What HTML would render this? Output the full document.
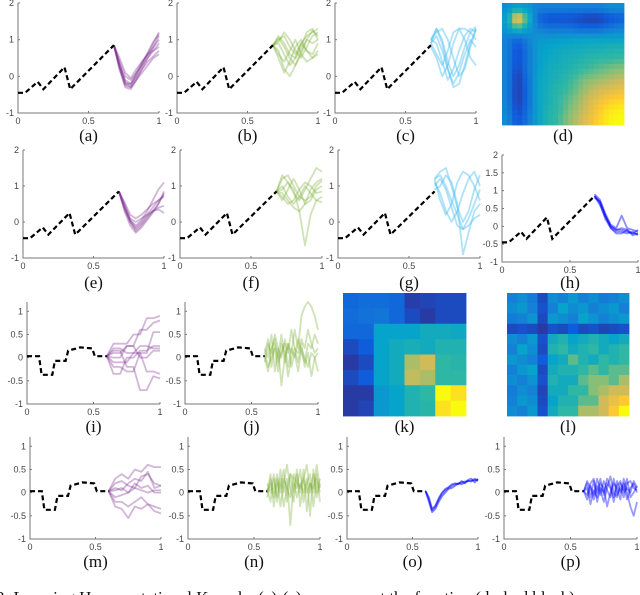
<!DOCTYPE html>
<html><head><meta charset="utf-8"><style>
html,body{margin:0;padding:0;background:#fff;overflow:hidden}
svg{display:block}
.tk{font-family:"Liberation Sans",sans-serif;font-size:9px;fill:#444}
.lb{font-family:"Liberation Serif",serif;font-size:17px;fill:#111}
</style></head><body>
<svg id="fig" width="640" height="595" viewBox="0 0 640 595" xmlns="http://www.w3.org/2000/svg">
<text class="lb" x="-4" y="603">3:  Learning Hyper-rotational Kernels: (a)-(c) ... represent the function (dashed black) ...</text>
</svg>
<script>
// ---- data ----
const baseA_x = [0,0.05,0.14,0.18,0.33,0.37,0.68];
const baseA_y = [-0.45,-0.45,-0.15,-0.35,0.25,-0.35,0.85];
const baseB_x = [0,0.09,0.11,0.19,0.21,0.29,0.31,0.4,0.49,0.51,0.6];
const baseB_y = [0.03,0.03,-0.37,-0.37,-0.07,-0.07,0.15,0.22,0.2,0.03,0.03];
const xsA = [0.68,0.72,0.76,0.8,0.84,0.88,0.92,0.96,1.0];
const xsB = [0.6,0.65,0.7,0.75,0.8,0.85,0.9,0.95,1.0];
const xsC = [0.6,0.625,0.65,0.675,0.7,0.725,0.75,0.775,0.8,0.825,0.85,0.875,0.9,0.925,0.95,0.975,1.0];
const seriesA = [[0.85,0.3,-0.2,-0.3,-0.1,0.1,0.3,0.5,0.6],[0.85,0.2,-0.3,-0.35,-0.1,0.2,0.5,0.8,1.1],[0.85,0.4,0,-0.1,0.1,0.3,0.5,0.7,0.9],[0.85,0.3,-0.1,-0.2,0,0.3,0.6,0.9,1.2],[0.85,0.5,0.1,-0.05,0.2,0.4,0.6,0.8,1.0],[0.85,0.2,-0.25,-0.3,-0.05,0.2,0.4,0.55,0.7],[0.85,0.35,-0.15,-0.25,0.05,0.35,0.65,0.95,1.15],[0.85,0.25,-0.2,-0.2,0.1,0.4,0.6,0.7,0.8]];
const seriesB = [[0.85,1.0,1.1,0.8,0.6,0.9,1.1,1.2,1.3],[0.85,0.9,0.6,0.3,0.5,0.9,0.7,0.6,0.9],[0.85,0.7,0.2,0.0,0.3,0.7,1.0,0.9,1.0],[0.85,1.1,0.9,0.6,0.5,0.8,1.2,1.3,1.0],[0.85,0.6,0.4,0.7,1.0,0.6,0.4,0.5,0.7],[0.85,0.95,1.2,1.0,0.7,0.5,0.8,1.1,1.2],[0.85,0.5,0.1,0.4,0.8,1.0,0.7,0.5,0.6],[0.85,1.05,0.8,0.5,0.3,0.6,1.0,1.25,1.1]];
const seriesC = [[0.9,1.3,1.0,0.4,0.0,0.3,0.8,1.2,1.35],[1.0,1.3,0.9,0.2,-0.2,0.1,0.6,1.0,0.8],[0.9,0.6,0.3,0.7,1.2,1.3,1.0,0.5,0.3],[1.0,1.2,1.3,1.0,0.5,0.0,0.2,0.8,1.3],[0.8,0.5,0.0,0.3,0.9,1.3,1.3,1.2,1.0],[1.0,0.9,0.4,-0.1,0.2,0.7,1.1,1.3,1.2],[0.9,1.1,0.7,0.2,-0.3,-0.2,0.3,0.9,1.3]];
const seriesE = [[0.85,0.4,0.0,-0.25,-0.1,0.1,0.3,0.5,0.8],[0.85,0.3,-0.1,-0.3,-0.15,0.05,0.25,0.5,0.85],[0.85,0.5,0.1,0.0,0.1,0.2,0.3,0.35,0.25],[0.85,0.45,0.05,-0.1,0.05,0.3,0.6,0.9,1.1],[0.85,0.35,0.0,-0.2,-0.05,0.15,0.3,0.4,0.45],[0.85,0.4,0.05,-0.15,0.0,0.2,0.4,0.6,0.75],[0.85,0.55,0.2,0.1,0.2,0.35,0.5,0.6,0.7]];
const seriesF = [[0.85,1.3,1.1,0.8,0.6,0.9,1.2,1.5,1.4],[0.85,0.8,0.6,0.4,0.3,0.5,0.9,1.1,1.2],[0.85,0.6,0.9,1.2,0.9,0.5,0.6,0.9,1.0],[0.85,1.0,0.7,0.5,0.7,1.0,0.8,0.6,0.7],[0.85,0.9,1.1,0.9,0.3,-0.65,0.2,0.6,0.55],[0.85,0.7,0.5,0.6,0.9,1.1,1.0,0.8,0.85],[0.85,1.2,1.3,1.0,0.7,0.6,0.7,1.0,1.15]];
const seriesG = [[1.2,1.4,1.5,1.0,0.4,0.0,0.3,0.9,1.3],[1.0,1.2,0.9,0.4,-0.1,-0.2,0.1,0.5,0.9],[1.2,0.6,0.2,0.5,1.1,1.4,1.3,1.0,0.6],[0.9,1.0,1.3,1.1,0.5,-0.9,-0.3,0.3,0.5],[1.1,0.8,0.3,0.0,0.3,0.8,1.2,1.4,1.0],[1.2,1.3,1.0,0.6,0.2,-0.2,-0.1,0.1,0.2]];
const seriesH = [[0.85,0.7,0.3,0.0,-0.1,-0.1,-0.15,-0.2,-0.2],[0.85,0.65,0.2,-0.05,-0.15,-0.15,-0.2,-0.15,-0.25],[0.9,0.75,0.35,0.05,-0.05,0.3,-0.05,-0.1,-0.15],[0.85,0.6,0.25,0.0,-0.1,-0.05,-0.1,-0.2,-0.1],[0.8,0.7,0.3,-0.05,-0.2,-0.2,-0.1,-0.25,-0.2]];
const seriesI = [[0.03,0.3,0.3,0.3,0.5,0.5,0.85,0.85,0.9],[0.03,0.1,0.1,0.25,0.25,0.6,0.6,0.75,0.8],[0.03,-0.35,-0.35,0.0,0.0,0.15,0.15,0.25,0.25],[0.03,0.15,0.15,-0.2,-0.2,-0.7,-0.7,-0.4,-0.45],[0.03,0.0,0.0,0.25,0.25,0.0,0.0,0.15,0.15],[0.03,-0.1,-0.1,-0.1,0.1,0.1,-0.3,-0.3,-0.35],[0.03,0.2,0.2,0.1,0.1,0.25,0.25,0.2,0.2],[0.03,-0.2,-0.2,-0.3,-0.3,0.1,0.1,0.55,0.55]];
const seriesJ = [[0.1,0.4,-0.2,0.3,0.0,0.5,-0.1,0.3,0.1,0.6,0.2,0.9,1.1,1.2,1.1,0.9,0.6],[0.0,-0.3,0.2,0.4,-0.1,0.1,0.3,-0.2,0.2,0.0,0.4,0.1,-0.1,0.3,0.2,0.5,0.3],[0.2,0.0,0.5,-0.3,0.2,-0.6,0.0,0.3,-0.2,0.1,-0.3,0.2,0.0,-0.2,0.1,0.0,-0.3],[-0.1,0.3,0.1,0.5,0.2,0.0,0.4,0.1,0.6,0.2,0.1,0.4,0.2,0.6,0.3,0.1,0.2],[0.1,-0.2,0.0,0.2,-0.3,0.3,0.1,-0.4,0.0,0.2,-0.1,0.3,-0.2,0.1,-0.4,0.0,0.1]];
const seriesM = [[0.03,0.3,0.4,0.3,0.5,0.45,0.6,0.55,0.55],[0.03,0.1,0.05,0.2,0.3,0.25,0.45,0.1,0.15],[0.03,-0.1,-0.05,0.0,0.1,0.05,0.0,0.05,0.05],[0.03,-0.3,-0.35,-0.55,-0.3,-0.35,-0.25,-0.4,-0.45],[0.03,0.05,0.1,0.0,0.2,0.1,0.15,0.0,0.0],[0.03,-0.2,-0.2,-0.3,-0.2,-0.1,-0.25,-0.3,-0.35],[0.03,0.2,0.25,0.15,0.1,0.35,0.4,0.2,0.15]];
const seriesN = [[0.0,0.4,-0.3,0.3,0.1,0.5,-0.2,0.4,0.0,0.5,-0.3,0.3,0.6,0.0,0.4,-0.1,0.2],[0.1,-0.2,0.3,-0.1,0.5,0.0,0.3,-0.7,0.2,0.1,0.5,-0.2,0.2,0.4,-0.3,0.3,0.0],[-0.1,0.3,0.0,0.4,-0.3,0.2,0.6,0.1,-0.2,0.4,0.0,0.5,-0.4,0.2,0.1,0.4,-0.2],[0.2,0.0,0.4,-0.2,0.3,-0.3,0.1,0.4,0.3,-0.1,0.2,0.0,0.3,-0.5,0.5,0.0,0.3],[0.0,0.2,-0.1,0.2,0.0,0.3,0.1,-0.1,0.4,0.2,0.1,0.3,0.0,0.2,0.0,0.6,0.1]];
const seriesO = [[0.03,-0.15,-0.38,-0.3,-0.15,-0.02,0.05,0.1,0.15,0.18,0.2,0.22,0.24,0.25,0.26,0.27,0.28],[0.03,-0.2,-0.42,-0.35,-0.2,-0.08,0.0,0.08,0.1,0.15,0.2,0.18,0.22,0.25,0.24,0.3,0.25],[0.03,-0.1,-0.35,-0.28,-0.12,0.0,0.08,0.12,0.18,0.2,0.18,0.25,0.2,0.28,0.3,0.22,0.3]];
const seriesP = [[0.03,0.2,-0.1,0.25,0.0,0.3,-0.05,0.2,0.1,-0.1,0.25,0.0,0.2,-0.15,0.1,0.2,0.0],[0.03,-0.15,0.15,-0.05,0.3,0.05,-0.2,0.1,0.35,0.0,-0.1,0.2,0.05,0.3,-0.1,0.0,0.15],[0.03,0.1,-0.25,0.05,-0.1,0.2,0.1,-0.3,0.0,0.2,0.1,-0.15,0.3,0.0,-0.3,-0.5,-0.2],[0.03,0.25,0.1,-0.15,0.15,-0.05,0.25,0.05,-0.1,0.3,-0.05,0.1,-0.1,0.2,0.25,0.1,0.05],[0.03,-0.05,0.2,0.3,-0.2,0.1,0.0,0.3,0.15,-0.2,0.15,0.25,0.0,0.1,0.0,0.25,0.1]];
const heatD = [[.35,.45,.4,.3,.3,.3,.3,.3,.3,.3,.35,.35],[.45,1.0,.6,.2,.1,.1,.1,.08,.05,.05,.1,.15],[.4,.6,.45,.3,.25,.25,.25,.2,.2,.2,.25,.3],[.3,.2,.3,.4,.4,.42,.42,.45,.45,.45,.45,.45],[.3,.1,.25,.42,.45,.48,.5,.5,.52,.52,.55,.55],[.3,.1,.25,.42,.48,.5,.52,.55,.58,.6,.6,.62],[.3,.08,.25,.42,.5,.52,.55,.6,.62,.65,.68,.7],[.3,.05,.22,.45,.5,.55,.6,.65,.7,.72,.75,.78],[.3,.05,.2,.45,.52,.58,.62,.68,.75,.8,.82,.85],[.3,.05,.2,.45,.52,.6,.65,.72,.8,.85,.9,.92],[.32,.08,.22,.45,.55,.6,.68,.75,.82,.9,.95,.98],[.35,.12,.25,.45,.55,.62,.7,.78,.85,.92,.98,1.0]];
const heatK = [[.2,.22,.22,.2,.06,.08,.1,.1],[.22,.24,.25,.2,.1,.05,.1,.1],[.2,.2,.45,.45,.45,.5,.5,.48],[.1,.15,.45,.5,.52,.5,.55,.55],[.05,.1,.45,.5,.75,.8,.6,.58],[.1,.15,.45,.5,.78,.75,.6,.6],[.05,.05,.4,.45,.55,.6,1.0,.95],[.05,.08,.4,.45,.55,.58,.95,1.0]];
const heatL = [[.3,.35,.28,.1,.35,.3,.4,.3,.35,.28,.3,.35],[.35,.4,.3,.12,.3,.45,.35,.4,.3,.35,.4,.3],[.28,.3,.38,.1,.4,.35,.3,.45,.38,.3,.35,.4],[.1,.12,.1,.05,.12,.1,.15,.1,.12,.08,.1,.12],[.35,.3,.4,.12,.5,.55,.45,.5,.55,.5,.45,.5],[.3,.45,.35,.1,.55,.6,.5,.55,.6,.5,.55,.6],[.4,.35,.3,.15,.45,.5,.65,.55,.5,.6,.55,.6],[.3,.4,.45,.1,.5,.55,.55,.6,.65,.6,.65,.65],[.35,.3,.38,.12,.55,.5,.5,.65,.7,.7,.65,.75],[.28,.35,.3,.08,.5,.5,.6,.6,.7,.75,.8,.8],[.3,.4,.35,.1,.45,.55,.55,.65,.65,.8,.85,.9],[.35,.3,.4,.12,.5,.6,.6,.75,.75,.8,.9,1.0]];
const ticks2 = [-1,0,1,2];
const ticksH = [-1,-0.5,0,0.5,1,1.5,2];
const ticks1 = [-1,-0.5,0,0.5,1];
const xTicks = [0,0.5,1];
// ---- drawing ----
const NS='http://www.w3.org/2000/svg';
const svg=document.getElementById('fig');
function mk(t,a,p){const e=document.createElementNS(NS,t);for(const k in a)e.setAttribute(k,a[k]);(p||svg).appendChild(e);return e;}
const stops=[[0,[53,42,135]],[0.15,[15,92,221]],[0.3,[20,129,214]],[0.45,[6,164,202]],[0.6,[46,183,164]],[0.7,[135,191,119]],[0.8,[209,187,89]],[0.9,[254,200,50]],[1,[249,251,14]]];
function parula(v){v=Math.max(0,Math.min(1,v));for(let i=1;i<stops.length;i++){if(v<=stops[i][0]){const a=stops[i-1],b=stops[i],t=(v-a[0])/(b[0]-a[0]);return 'rgb('+a[1].map((c,j)=>Math.round(c+(b[1][j]-c)*t)).join(',')+')';}}return 'rgb(249,251,14)';}
function label(txt,cx,y,name){const t=mk('text',{class:'lb',x:cx,y:y,'text-anchor':'middle'});t.textContent=txt;

}
function panel(id,x0,x1,yT,yB,ymin,ymax,yt,base,xs,series,color,op,lab,ly,small){
 const g=mk('g',{});
 
 
 const sx=v=>x0+(x1-x0)*v, sy=v=>yB-(yB-yT)*(v-ymin)/(ymax-ymin);
 const ax=mk('path',{d:`M${x0},${yT}V${yB}H${x1}`,fill:'none',stroke:'#777','stroke-width':1},g);
 
 
 const fs=small?8:9;
 yt.forEach(v=>{const t=mk('text',{class:'tk',x:x0-4,y:sy(v)+3,'text-anchor':'end','font-size':fs},g);t.textContent=String(v);
 
 
 mk('line',{x1:x0,x2:x0+2,y1:sy(v),y2:sy(v),stroke:'#777'},g);});
 xTicks.forEach(v=>{const t=mk('text',{class:'tk',x:sx(v),y:yB+11,'text-anchor':'middle','font-size':fs},g);t.textContent=String(v);
 
 
 mk('line',{x1:sx(v),x2:sx(v),y1:yB,y2:yB-2,stroke:'#777'},g);});
 series.forEach((s,i)=>{const p=mk('polyline',{points:s.map((v,j)=>sx(xs[j]).toFixed(1)+','+sy(v).toFixed(1)).join(' '),fill:'none',stroke:color,'stroke-opacity':op,'stroke-width':1.8,'stroke-linejoin':'round'},g);
 
 });
 const b=mk('polyline',{points:base[0].map((v,j)=>sx(v).toFixed(1)+','+sy(base[1][j]).toFixed(1)).join(' '),fill:'none',stroke:'#000','stroke-width':2.2,'stroke-dasharray':'5,3'},g);
 
 
 label(lab,(x0+x1)/2,ly,'label-'+id);
}
function sample(m,r,c){const n=m.length;r=Math.max(0,Math.min(n-1,r));c=Math.max(0,Math.min(n-1,c));
 const r0=Math.floor(r),c0=Math.floor(c),r1=Math.min(n-1,r0+1),c1=Math.min(n-1,c0+1),fr=r-r0,fc=c-c0;
 return m[r0][c0]*(1-fr)*(1-fc)+m[r0][c1]*(1-fr)*fc+m[r1][c0]*fr*(1-fc)+m[r1][c1]*fr*fc;}
function heat(id,x0,y0,w,h,m,lab,ly,up){
 const g=mk('g',{});
 
 
 const n=m.length,N=n*up,cw=w/N,ch=h/N;
 for(let i=0;i<N;i++)for(let j=0;j<N;j++){
  const v=up>1?sample(m,(i+0.5)/up-0.5,(j+0.5)/up-0.5):m[i][j];
  const r=mk('rect',{x:(x0+j*cw).toFixed(2),y:(y0+i*ch).toFixed(2),width:(cw+0.4).toFixed(2),height:(ch+0.4).toFixed(2),fill:parula(v)},g);
  
  
 }
 label(lab,x0+w/2,ly,'label-'+id);
}
const BA=[baseA_x,baseA_y],BB=[baseB_x,baseB_y];
const PU='#7e2f8e',GR='#77ac30',LB='#4dbeee',BL='#0000ff';
panel('a',18,159,3,113,-1,2,ticks2,BA,xsA,seriesA,PU,0.35,'(a)',141);
panel('b',177,318,3,113,-1,2,ticks2,BA,xsA,seriesB,GR,0.35,'(b)',141);
panel('c',335,476,3,113,-1,2,ticks2,BA,xsA,seriesC,LB,0.45,'(c)',141);
heat('d',502,3,122,122,heatD,'(d)',141,2);
panel('e',23,164,150,258,-1,2,ticks2,BA,xsA,seriesE,PU,0.35,'(e)',288);
panel('f',180,322,150,258,-1,2,ticks2,BA,xsA,seriesF,GR,0.35,'(f)',288);
panel('g',338,480,150,258,-1,2,ticks2,BA,xsA,seriesG,LB,0.45,'(g)',288);
panel('h',502,638,155,262,-1,2,ticksH,BA,xsA,seriesH,BL,0.45,'(h)',288,true);
panel('i',27,160,302,404,-1,1.2,ticks1,BB,xsB,seriesI,PU,0.35,'(i)',432);
panel('j',185,318,302,404,-1,1.2,ticks1,BB,xsC,seriesJ,GR,0.35,'(j)',432);
heat('k',343,293,123,123,heatK,'(k)',432,1);
heat('l',507,293,122,123,heatL,'(l)',432,1);
panel('m',30,161,437,539,-1,1.2,ticks1,BB,xsB,seriesM,PU,0.35,'(m)',567);
panel('n',188,320,437,539,-1,1.2,ticks1,BB,xsC,seriesN,GR,0.35,'(n)',567);
panel('o',347,478,437,539,-1,1.2,ticks1,BB,xsC,seriesO,BL,0.5,'(o)',567);
panel('p',504,637,437,539,-1,1.2,ticks1,BB,xsC,seriesP,BL,0.4,'(p)',567);
</script>
</body></html>
